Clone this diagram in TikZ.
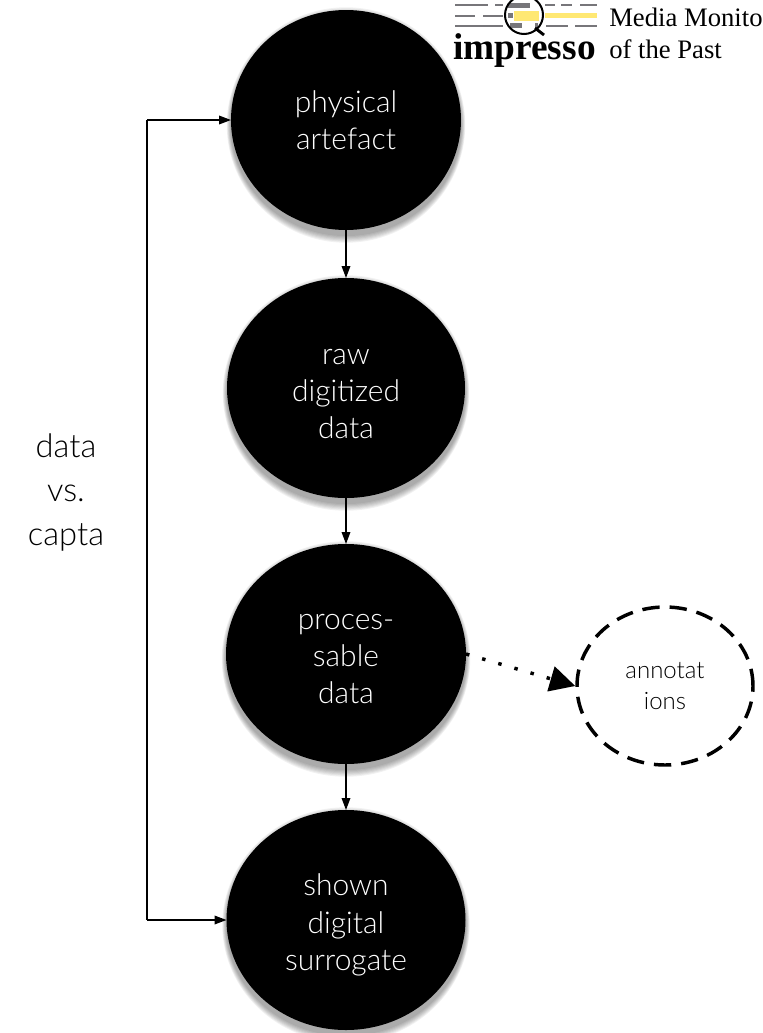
\documentclass[tikz,border=0pt]{standalone}
\usepackage{fontspec}
\setmainfont{Lato}
\newfontfamily\thinpart{Lato Light}
\newfontfamily\serifpart{Liberation Serif}
\usetikzlibrary{arrows.meta,shapes.geometric}
\definecolor{logoyellow}{HTML}{FFE873}
\definecolor{logogray}{HTML}{77767A}
\tikzset{
  x=0.75pt,y=-0.75pt,
  blob/.style={ellipse,fill=black,minimum width=#1*0.75pt,minimum height=220*0.75pt,inner sep=0pt,outer sep=0pt},
  bubbletext/.style={text=white,align=center,font=\thinpart\fontsize{22.5}{28.1}\selectfont},
  link/.style={draw=black,line width=1pt,-{Triangle[length=9pt,width=6.5pt]}},
  logobar/.style={line width=1.5pt,draw=logogray},
  logotext/.style={font=\serifpart\fontsize{20}{24}\selectfont,anchor=base west,inner sep=0pt},
  halo/.style={fill=black,opacity=0.055}
}
\begin{document}
\begin{tikzpicture}
\useasboundingbox (0,0) rectangle (763,1033);
\clip (0,0) rectangle (763,1033);
% logo
\foreach \xa/\xb in {455/488,495/503,545/555,561/572,580/597}{\draw[logobar] (\xa,5)--(\xb,5);}
\foreach \xa/\xb in {455/475,483/503}{\draw[logobar] (\xa,16)--(\xb,16);}
\foreach \xa/\xb in {455/503,546/568,575/597}{\draw[logobar] (\xa,26)--(\xb,26);}
\fill[logogray] (508,3) rectangle (530,8);
\fill[logogray] (508,13) rectangle (513,18);
\fill[logogray] (510,23) rectangle (522,28);
\fill[logogray] (535,23) rectangle (538,28);
\fill[logoyellow] (514,11) rectangle (539,21);
\fill[logoyellow] (545,13) rectangle (597,18);
\draw[black,line width=1.5pt] (524,15) circle[radius=19];
\draw[black,line width=2.2pt] (535,28)--(544,35);
\node[logotext,font=\serifpart\bfseries\fontsize{28}{30}\selectfont] (imp) at (453,59) {impresso};
\node[logotext] (media) at (609,26) {Media Monito};
\node[logotext] (past) at (609,58) {of the Past};
% soft shadows under the bubbles
\foreach \cx/\cy/\w in {346/120/230,346/388/238,346/654/240,346/920/239}{
  \foreach \g in {1,...,7}{
    \fill[halo] (\cx,\cy+5) ellipse[x radius=\w/2+\g*0.6,y radius=110+\g*1.1];
  }
}
% bubbles
\node[blob=230] (phys) at (346,120) {};
\node[blob=238] (raw) at (346,388) {};
\node[blob=240] (proc) at (346,654) {};
\node[blob=239] (shown) at (346,920) {};
\node[bubbletext] (physlabel) at (346,120) {physical\\artefact};
\node[bubbletext] (rawlabel) at (346,394) {raw\\digitized\\data};
\node[bubbletext] (proclabel) at (346,659) {proces-\\sable\\data};
\node[bubbletext] (shownlabel) at (346,925) {shown\\digital\\surrogate};
\node[draw=black,dash pattern=on 13pt off 7.5pt,line width=2.6pt,ellipse,minimum width=176*0.75pt,minimum height=158*0.75pt,inner sep=0pt,
  font=\thinpart\fontsize{18}{23}\selectfont,align=center,text=black] (ann) at (665,686) {annotat\\ions};
\node[font=\thinpart\fontsize{24.5}{33}\selectfont,align=center,inner sep=0pt,text=black] (dc) at (66,492) {data\\vs.\\capta};
% connectors
\draw[link] (phys)--(raw);
\draw[link] (raw)--(proc);
\draw[link] (proc)--(shown);
\coordinate (lt) at (147,120);
\coordinate (lb) at (147,920);
\draw[link] (lt)--(phys.west);
\draw[link] (lb)--(shown.west);
\draw[draw=black,line width=1pt] (lt)--(lb);
\draw[line width=2.6pt,dash pattern=on 2.6pt off 10pt,-{Triangle[length=19pt,width=19pt]}] (proc.east) -- (ann.west);
\end{tikzpicture}
\end{document}
